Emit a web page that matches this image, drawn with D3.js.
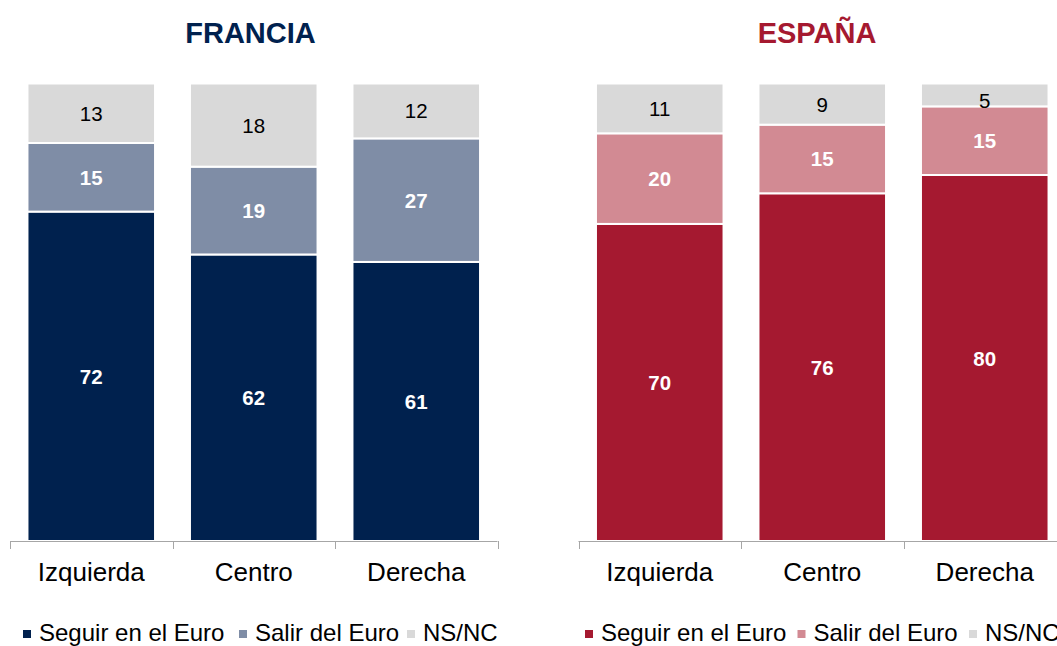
<!DOCTYPE html>
<html>
<head>
<meta charset="utf-8">
<script src="https://cdn.jsdelivr.net/npm/d3@7"></script>
<style>
  html, body { margin: 0; padding: 0; background: #fff; }
  svg { display: block; font-family: "Liberation Sans", Arial, sans-serif; }
</style>
</head>
<body>
<svg id="chart" width="1057" height="646"></svg>
<script>
// ---- Data ----
const categories = ["Izquierda", "Centro", "Derecha"];
const seriesNames = ["Seguir en el Euro", "Salir del Euro", "NS/NC"];

const franciaSeguir = [72, 62, 61];
const franciaSalir  = [15, 19, 27];
const franciaNsnc   = [13, 18, 12];

const espanaSeguir = [70, 76, 80];
const espanaSalir  = [20, 15, 15];
const espanaNsnc   = [11, 9, 5];

const panelTitles = ["FRANCIA", "ESPAÑA"];

// ---- Styles ----
const franciaColors = ["#00214E", "#7F8DA6", "#D9D9D9"];
const espanaColors  = ["#A51930", "#D28A93", "#D9D9D9"];
const labelColors   = ["#FFFFFF", "#FFFFFF", "#000000"];
const labelWeights  = ["bold", "bold", "normal"];

const svg = d3.select("#chart");
const keys = ["s0", "s1", "s2"];

function buildRows(a, b, c) {
  return categories.map((cat, i) => ({ cat, s0: a[i], s1: b[i], s2: c[i] }));
}

const panels = [
  { title: panelTitles[0], titleColor: "#00214E", colors: franciaColors,
    rows: buildRows(franciaSeguir, franciaSalir, franciaNsnc),
    x0: 10, x1: 497.5, titleX: 250.5, legendX: [23, 239, 407] },
  { title: panelTitles[1], titleColor: "#A51930", colors: espanaColors,
    rows: buildRows(espanaSeguir, espanaSalir, espanaNsnc),
    x0: 578.5, x1: 1066, titleX: 817, legendX: [585, 797.5, 969] }
];

const yTop = 83.5, yBottom = 541;
const y = d3.scaleLinear().domain([0, 1]).range([yBottom, yTop]);

panels.forEach(p => {
  const g = svg.append("g");

  const x = d3.scaleBand().domain(categories).range([p.x0, p.x1])
    .paddingInner(0.215).paddingOuter(0.1075);
  const xAxisScale = d3.scaleBand().domain(categories).range([p.x0, p.x1]).padding(0);

  const stack = d3.stack().keys(keys).offset(d3.stackOffsetExpand);
  const series = stack(p.rows);

  // Bars
  series.forEach((s, si) => {
    g.append("g").selectAll("rect").data(s).join("rect")
      .attr("x", d => x(d.data.cat))
      .attr("width", x.bandwidth())
      .attr("y", d => y(d[1]))
      .attr("height", d => y(d[0]) - y(d[1]))
      .attr("fill", p.colors[si])
      .attr("stroke", "#fff")
      .attr("stroke-width", 2);
  });

  // Value labels
  series.forEach((s, si) => {
    g.append("g").selectAll("text").data(s).join("text")
      .attr("x", d => x(d.data.cat) + x.bandwidth() / 2)
      .attr("y", d => {
        const top = y(d[1]), bot = y(d[0]);
        const mid = Math.max((top + bot) / 2, top + 17);
        return mid + 7.5;
      })
      .attr("text-anchor", "middle")
      .attr("font-size", 20.5)
      .attr("font-weight", labelWeights[si])
      .attr("fill", labelColors[si])
      .text(d => d.data[keys[si]]);
  });

  // Axis with category labels
  const axis = d3.axisBottom(xAxisScale).tickSize(0).tickPadding(15);
  const ag = g.append("g").attr("transform", `translate(0,${yBottom})`).call(axis);
  ag.select(".domain").remove();
  ag.selectAll("text")
    .attr("font-size", 26)
    .attr("font-family", "Liberation Sans, Arial, sans-serif")
    .attr("fill", "#000")
    .attr("dy", "0.71em")
    .attr("y", 22);

  // Axis line and boundary ticks
  g.append("line")
    .attr("x1", p.x0).attr("x2", p.x1)
    .attr("y1", yBottom + 0.5).attr("y2", yBottom + 0.5)
    .attr("stroke", "#A6A6A6").attr("stroke-width", 1);
  const bounds = categories.map(c => xAxisScale(c)).concat([xAxisScale(categories[categories.length - 1]) + xAxisScale.bandwidth()]);
  g.append("g").selectAll("line").data(bounds).join("line")
    .attr("x1", d => Math.round(d) + 0.5).attr("x2", d => Math.round(d) + 0.5)
    .attr("y1", yBottom).attr("y2", yBottom + 8)
    .attr("stroke", "#A6A6A6").attr("stroke-width", 1);

  // Title
  g.append("text")
    .attr("x", p.titleX).attr("y", 43)
    .attr("text-anchor", "middle")
    .attr("font-size", 29)
    .attr("font-weight", "bold")
    .attr("fill", p.titleColor)
    .text(p.title);

  // Legend
  seriesNames.forEach((name, i) => {
    const lx = p.legendX[i];
    g.append("rect")
      .attr("x", lx).attr("y", 630)
      .attr("width", 8).attr("height", 8)
      .attr("fill", p.colors[i]);
    g.append("text")
      .attr("x", lx + 16).attr("y", 641)
      .attr("font-size", 24)
      .attr("fill", "#000")
      .text(name);
  });
});
</script>
</body>
</html>
